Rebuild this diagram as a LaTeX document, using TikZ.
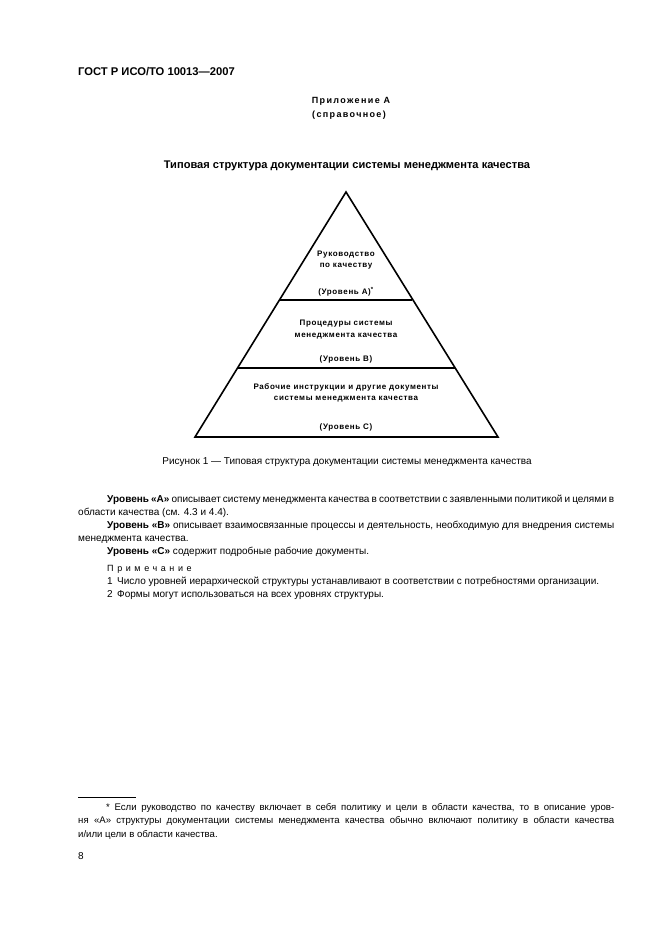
\documentclass[tikz,border=0pt]{standalone}
\usepackage{fontspec}
\setmainfont{Liberation Sans}
\begin{document}
\begin{tikzpicture}[x=1pt,y=-1pt,
  txt/.style={inner sep=0pt, font=\fontsize{10}{13}\selectfont},
  lvl/.style={inner sep=0pt, align=center, font=\bfseries\fontsize{8}{11.5}\selectfont\addfontfeature{LetterSpace=8}},
  para/.style={inner sep=0pt, anchor=north west, text width=536pt, align=justify, font=\fontsize{10}{13}\selectfont},
  pyr/.style={line width=1.6pt}]
\useasboundingbox[fill=white] (0,0) rectangle (661,936);
% header
\node[txt, anchor=base west, font=\bfseries\fontsize{11.2}{13}\selectfont] (hdr) at (78,76) {ГОСТ Р ИСО/ТО 10013—2007};
\node[txt, anchor=base, font=\bfseries\fontsize{9}{12}\selectfont\addfontfeature{LetterSpace=15}] (app) at (351,104) {Приложение А};
\node[txt, anchor=base, font=\bfseries\fontsize{9}{12}\selectfont\addfontfeature{LetterSpace=15}] (ref) at (349,118) {(справочное)};
\node[txt, anchor=base, font=\bfseries\fontsize{11.1}{13}\selectfont] (ttl) at (347,168) {Типовая структура документации системы менеджмента качества};
% pyramid
\coordinate (apex) at (346,192);
\coordinate (bl) at (195,437);
\coordinate (br) at (498,437);
\coordinate (al) at (280,300);
\coordinate (ar) at (412,300);
\coordinate (ml) at (237,368);
\coordinate (mr) at (455,368);
\draw[pyr, line join=miter] (bl) -- (apex) -- (br) -- cycle;
\draw[pyr] (al) -- (ar);
\draw[pyr] (ml) -- (mr);
\node[lvl, anchor=center] (a1) at (346,260) {Руководство\\по качеству};
\node[lvl, anchor=center] (a2) at (346,292) {(Уровень А)\textsuperscript{*}};
\node[lvl, anchor=center] (b1) at (346,329.5) {Процедуры системы\\менеджмента качества};
\node[lvl, anchor=center] (b2) at (346,359) {(Уровень В)};
\node[lvl, anchor=center] (c1) at (346,393) {Рабочие инструкции и другие документы\\системы менеджмента качества};
\node[lvl, anchor=center] (c2) at (346,427) {(Уровень С)};
% caption
\node[txt, anchor=base] (cap) at (347,464.5) {Рисунок 1 — Типовая структура документации системы менеджмента качества};
% paragraphs
\node[para] (p1) at (78,495) {\hspace*{29pt}\textbf{Уровень «А»} описывает систему менеджмента качества в соответствии с заявленными политикой и целями в\linebreak области качества (см. 4.3 и 4.4).\par
\hspace*{29pt}\textbf{Уровень «В»} описывает взаимосвязанные процессы и деятельность, необходимую для внедрения системы\linebreak менеджмента качества.\par
\hspace*{29pt}\textbf{Уровень «С»} содержит подробные рабочие документы.};
% notes
\node[txt, anchor=base west, font=\fontsize{9}{12}\selectfont\addfontfeature{LetterSpace=40}] (n0) at (107,571.5) {Примечание};
\node[txt, anchor=base west] (n1) at (107,584.5) {1\, Число уровней иерархической структуры устанавливают в соответствии с потребностями организации.};
\node[txt, anchor=base west] (n2) at (107,597.5) {2\, Формы могут использоваться на всех уровнях структуры.};
% footnote
\coordinate (fr1) at (78,797);
\coordinate (fr2) at (136,797);
\draw[line width=0.6pt] (fr1) -- (fr2);
\node[para, font=\fontsize{9.6}{13.5}\selectfont] (fn) at (78,803) {\hspace*{28pt}* Если руководство по качеству включает в себя политику и цели в области качества, то в описание уров-\linebreak ня «А» структуры документации системы менеджмента качества обычно включают политику в области качества\linebreak и/или цели в области качества.};
\node[txt, anchor=base west] (pg) at (78,859.5) {8};
\end{tikzpicture}
\end{document}
